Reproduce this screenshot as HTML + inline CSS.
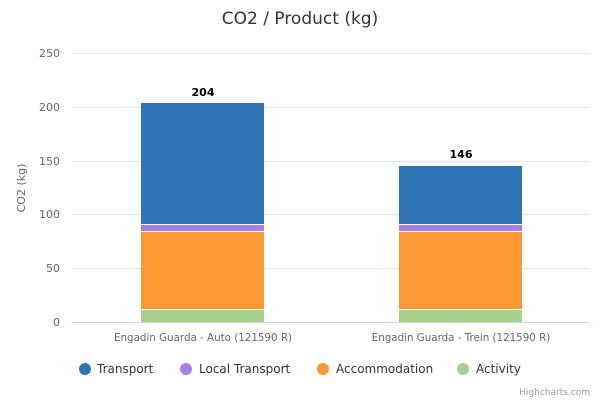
<!DOCTYPE html>
<html><head><style>body{margin:0;background:#fff}svg{display:block;font-family:"DejaVu Sans",sans-serif}</style></head><body>
<svg width="600" height="400" xmlns="http://www.w3.org/2000/svg">
<rect width="600" height="400" fill="#fff"/>
<text x="300" y="24" text-anchor="middle" font-size="17" fill="#333">CO2 / Product (kg)</text>
<g stroke="#e6e6e6" stroke-width="1">
<line x1="72" x2="590" y1="53.5" y2="53.5"/><line x1="72" x2="590" y1="107.5" y2="107.5"/><line x1="72" x2="590" y1="161.5" y2="161.5"/><line x1="72" x2="590" y1="214.5" y2="214.5"/><line x1="72" x2="590" y1="268.5" y2="268.5"/>
</g>
<line x1="72" x2="590" y1="322.5" y2="322.5" stroke="#ccd6eb"/>
<g font-size="11" fill="#666" text-anchor="end">
<text x="60" y="57">250</text><text x="60" y="111">200</text><text x="60" y="165">150</text><text x="60" y="218">100</text><text x="60" y="272">50</text><text x="60" y="326">0</text>
</g>
<text transform="translate(25,188) rotate(-90)" text-anchor="middle" font-size="11" fill="#666">CO2 (kg)</text>
<rect x="141" y="103" width="123" height="121" fill="#2e75b6"/>
<rect x="141" y="225" width="123" height="6" fill="#a97cea"/>
<rect x="141" y="232" width="123" height="77" fill="#fd9935"/>
<rect x="141" y="310" width="123" height="12" fill="#a7d08c"/>
<rect x="399" y="166" width="123" height="58" fill="#2e75b6"/>
<rect x="399" y="225" width="123" height="6" fill="#a97cea"/>
<rect x="399" y="232" width="123" height="77" fill="#fd9935"/>
<rect x="399" y="310" width="123" height="12" fill="#a7d08c"/>
<g font-size="11" font-weight="bold" fill="#000" text-anchor="middle">
<text x="203" y="96">204</text><text x="461" y="158">146</text>
</g>
<g font-size="10.3" fill="#666" text-anchor="middle">
<text x="203" y="341">Engadin Guarda - Auto (121590 R)</text><text x="461" y="341">Engadin Guarda - Trein (121590 R)</text>
</g>
<g font-size="12" fill="#333">
<circle cx="85" cy="369" r="6" fill="#2e75b6"/><text x="97" y="373">Transport</text>
<circle cx="186" cy="369" r="6" fill="#a97cea"/><text x="199" y="373">Local Transport</text>
<circle cx="323" cy="369" r="6" fill="#fd9935"/><text x="336" y="373">Accommodation</text>
<circle cx="463" cy="369" r="6" fill="#a7d08c"/><text x="476" y="373">Activity</text>
</g>
<text x="590" y="395" text-anchor="end" font-size="9" fill="#999">Highcharts.com</text>
</svg>
</body></html>
